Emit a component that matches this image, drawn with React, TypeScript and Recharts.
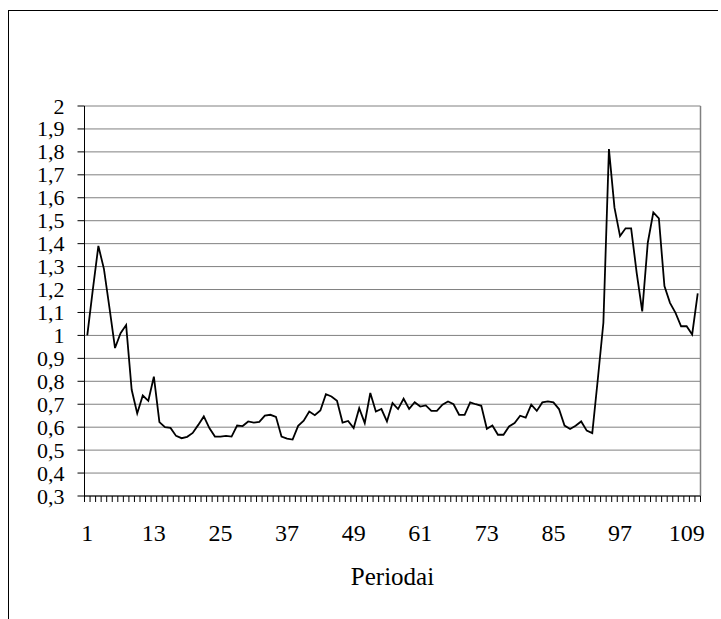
import React from "react"
import {
  CartesianGrid,
  Label,
  Line,
  LineChart,
  ReferenceLine,
  XAxis,
  YAxis,
} from "recharts"

// periods 1..111
const values = [
  1.0, 1.2, 1.39, 1.29, 1.12, 0.945, 1.01, 1.045, 0.763, 0.66,
  0.738, 0.715, 0.82, 0.622, 0.6, 0.597, 0.562, 0.552, 0.558, 0.575,
  0.61, 0.647, 0.596, 0.559, 0.559, 0.562, 0.559, 0.607, 0.605, 0.625,
  0.62, 0.623, 0.65, 0.654, 0.645, 0.559, 0.55, 0.546, 0.606, 0.628,
  0.668, 0.652, 0.673, 0.744, 0.734, 0.715, 0.62, 0.627, 0.596, 0.683,
  0.618, 0.749, 0.668, 0.679, 0.625, 0.705, 0.679, 0.724, 0.68, 0.709,
  0.69, 0.695, 0.671, 0.671, 0.698, 0.712, 0.7, 0.654, 0.654, 0.708,
  0.7, 0.693, 0.593, 0.607, 0.567, 0.567, 0.603, 0.618, 0.65, 0.642,
  0.698, 0.671, 0.708, 0.712, 0.708, 0.679, 0.607, 0.592, 0.606, 0.625,
  0.585, 0.574, 0.81, 1.055, 1.812, 1.557, 1.433, 1.467, 1.467, 1.273,
  1.105, 1.404, 1.536, 1.51, 1.215, 1.142, 1.098, 1.04, 1.04, 1.004,
  1.183,
]
const periodLabels = [1, 13, 25, 37, 49, 61, 73, 85, 97, 109]
const yTicks = [0.3, 0.4, 0.5, 0.6, 0.7, 0.8, 0.9, 1, 1.1, 1.2, 1.3, 1.4, 1.5, 1.6, 1.7, 1.8, 1.9, 2]

const data = values.map((v, i) => ({ period: i + 1, value: v }))
const n = values.length
// tick marks sit between categories, like the original
const boundaries = Array.from({ length: n + 1 }, (_, i) => i + 0.5)

const font = "'Liberation Serif', 'Times New Roman', serif"
const fmt = (v: number) => String(Number(v.toFixed(1))).replace(".", ",")

function Txt(props: any) {
  const { x, y, payload, anchor, baseline, size } = props
  return (
    <text
      x={x}
      y={y}
      textAnchor={anchor}
      dominantBaseline={baseline}
      fill="#000"
      fontSize={size}
      style={{ fontFamily: font }}
    >
      {props.format ? props.format(payload.value) : payload.value}
    </text>
  )
}

export default function App() {
  return (
    <div style={{ position: "fixed", left: 0, top: 0, width: 721, height: 619, overflow: "hidden", background: "#fff", fontFamily: font }}>
      <div
        style={{
          position: "absolute",
          left: 8,
          top: 10,
          width: 709,
          height: 700,
          borderTop: "1px solid #000",
          borderLeft: "1px solid #000",
        }}
      />
      <div style={{ position: "absolute", left: 0, top: 0 }}>
        <LineChart
          width={721}
          height={619}
          data={data}
          margin={{ top: 106, right: 20.5, left: 0, bottom: 28 }}
          style={{ fontFamily: font }}
        >
          <CartesianGrid stroke="#808080" vertical={false} />
          <XAxis
            xAxisId="grid"
            dataKey="period"
            type="number"
            domain={[0.5, n + 0.5]}
            ticks={boundaries}
            interval={0}
            tick={() => <g />}
            height={1}
            tickSize={6}
            stroke="#000"
            allowDataOverflow
          />
          <XAxis
            xAxisId="lab"
            dataKey="period"
            type="number"
            domain={[0.5, n + 0.5]}
            ticks={periodLabels}
            interval={0}
            height={94}
            axisLine={false}
            tickLine={false}
            tickSize={0}
            tickMargin={27}
            tick={(p: any) => <Txt {...p} anchor="middle" baseline="hanging" size={24} />}
            allowDataOverflow
          >
            <Label
              value="Periodai"
              position="insideTop"
              offset={70}
              style={{ fill: "#000", fontSize: 25, fontFamily: font }}
            />
          </XAxis>
          <YAxis
            domain={[0.3, 2]}
            ticks={yTicks}
            interval={0}
            width={84.5}
            tickSize={7}
            tickMargin={13}
            stroke="#000"
            tick={(p: any) => <Txt {...p} anchor="end" baseline="central" format={fmt} size={22} />}
            allowDataOverflow
          />
          <ReferenceLine xAxisId="lab" x={n + 0.5} stroke="#808080" strokeWidth={1.5} />
          <Line
            xAxisId="lab"
            type="linear"
            dataKey="value"
            stroke="#000"
            strokeWidth={1.8}
            dot={false}
            isAnimationActive={false}
          />
        </LineChart>
      </div>
    </div>
  )
}
